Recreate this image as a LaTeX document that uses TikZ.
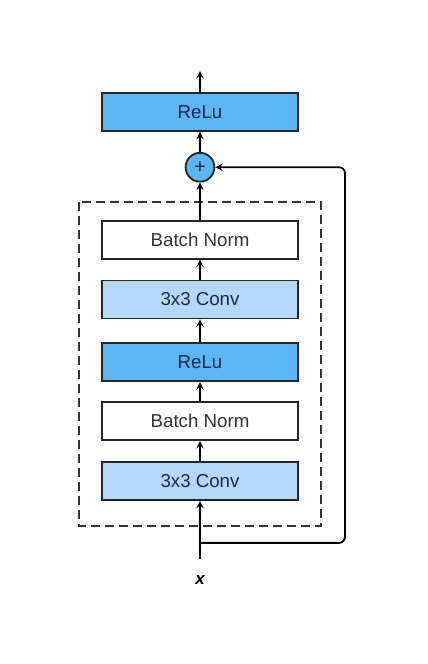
\documentclass[tikz,border=0pt]{standalone}
\usepackage{fontspec}
\setmainfont{Liberation Sans}
\usepackage{xcolor}
\usetikzlibrary{shapes,arrows,positioning,calc}

\definecolor{relublue}{RGB}{92,182,245}
\definecolor{convblue}{RGB}{180,216,250}
\definecolor{textnavy}{RGB}{30,40,70}

\begin{document}
\begin{tikzpicture}[
    layer/.style={rectangle, draw=black!85, line width=1.3pt, minimum width=4.9cm, minimum height=0.95cm, align=center, font=\fontsize{13.3}{15}\selectfont, text=black!80},
    relu/.style={layer, fill=relublue, text=textnavy},
    conv/.style={layer, fill=convblue, text=textnavy},
    norm/.style={layer, fill=white},
    addop/.style={circle, draw=black!85, line width=1.3pt, fill=relublue, minimum size=0.72cm, inner sep=0pt, font=\Large, text=textnavy},
    arrow/.style={->, >=stealth, line width=1.3pt},
    block/.style={draw=black!80, line width=1.3pt, dash pattern=on 0.22cm off 0.13cm}
]
    \useasboundingbox (0,0) rectangle (10.675,-16.6);

    % Output layer
    \node[relu] (reluout) at (5,-2.8) {ReLu};

    % Addition
    \node[addop, below=0.5cm of reluout] (add) {+};

    % Residual block
    \node[norm, below=0.93cm of add] (bn2) {Batch Norm};
    \node[conv, below=0.5cm of bn2] (conv2) {3x3 Conv};
    \node[relu, below=0.575cm of conv2] (relu1) {ReLu};
    \node[norm, below=0.475cm of relu1] (bn1) {Batch Norm};
    \node[conv, below=0.5cm of bn1] (conv1) {3x3 Conv};

    % Dashed frame
    \draw[block] ($(bn2.north west)+(-0.55,0.45)$) rectangle ($(conv1.south east)+(0.55,-0.625)$);

    % Input
    \node[font=\bfseries\itshape\large, below=1.75cm of conv1] (xin) {x};
    \coordinate (in) at ($(conv1.south)+(0,-1.45)$);
    \coordinate (split) at ($(conv1.south)+(0,-1.05)$);
    \coordinate (out) at ($(reluout.north)+(0,0.525)$);

    % Arrows
    \draw[arrow] (in) -- (conv1);
    \draw[arrow] (conv1) -- (bn1);
    \draw[arrow] (bn1) -- (relu1);
    \draw[arrow] (relu1) -- (conv2);
    \draw[arrow] (conv2) -- (bn2);
    \draw[arrow] (bn2) -- (add);
    \draw[arrow] (add) -- (reluout);
    \draw[arrow] (reluout) -- (out);

    % Skip connection
    \draw[arrow, rounded corners=0.15cm] (split) -- ++(3.625,0) |- (add);

\end{tikzpicture}
\end{document}
